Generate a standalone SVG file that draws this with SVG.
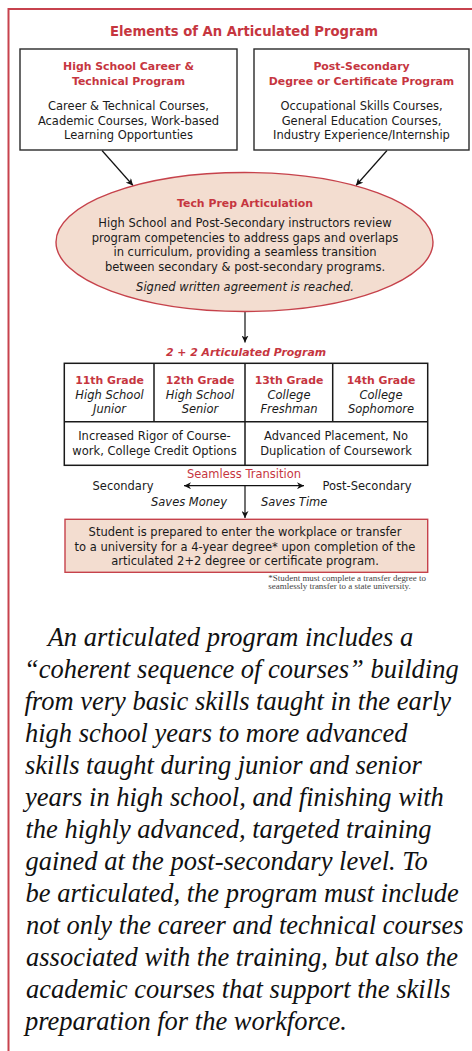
<svg xmlns="http://www.w3.org/2000/svg" width="472" height="1051" viewBox="0 0 472 1051">
<defs>
<style>
.sans{font-family:"DejaVu Sans","Liberation Sans",sans-serif;}
.body{font-family:"DejaVu Sans","Liberation Sans",sans-serif;font-size:11.5px;fill:#1a1a1a;text-anchor:middle;}
.ital{font-style:italic;}
.hdr{font-family:"DejaVu Sans","Liberation Sans",sans-serif;font-size:10.9px;font-weight:bold;fill:#c6363f;text-anchor:middle;}
.box{fill:#ffffff;stroke:#2a2a2a;stroke-width:1.4;}
.pink{fill:#f3ddd0;stroke:#c6424b;stroke-width:1.4;}
.conn{stroke:#111;stroke-width:1.2;fill:none;}
.para{font-family:"Liberation Serif","Times New Roman",serif;font-style:italic;font-size:26.5px;fill:#111;}
</style>
<marker id="ah" viewBox="0 0 10 10" refX="10" refY="5" markerWidth="7" markerHeight="7" markerUnits="userSpaceOnUse" orient="auto-start-reverse">
<path d="M0,0 L10,5 L0,10 L3,5 z" fill="#111"/>
</marker>
</defs>
<rect width="472" height="1051" fill="#ffffff"/>
<g id="frame" fill="none" stroke="#c7424d" stroke-width="2">
<path d="M8.5,1051 L8.5,9 L472,9"/>
</g>
<text id="title" x="244" y="35.5" class="sans" font-size="13.2" font-weight="bold" fill="#c6363f" text-anchor="middle">Elements of An Articulated Program</text>
<g id="connectors">
<line class="conn" x1="102" y1="150.5" x2="133" y2="185.5" marker-end="url(#ah)"/>
<line class="conn" x1="387" y1="150.5" x2="356" y2="185.5" marker-end="url(#ah)"/>
<line class="conn" x1="245" y1="311.5" x2="245" y2="342.5" marker-end="url(#ah)"/>
<line class="conn" x1="184" y1="485.7" x2="304" y2="485.7" marker-start="url(#ah)" marker-end="url(#ah)"/>
<line class="conn" x1="245" y1="485.7" x2="245" y2="518" marker-end="url(#ah)"/>
</g>
<g id="hs-program">
<rect class="box" x="20" y="49" width="217" height="101"/>
<text class="hdr" x="128.5" y="70">High School Career &amp;</text>
<text class="hdr" x="128.5" y="85">Technical Program</text>
<text class="body" x="128.5" y="110">Career &amp; Technical Courses,</text>
<text class="body" x="128.5" y="124.5">Academic Courses, Work-based</text>
<text class="body" x="128.5" y="139">Learning Opportunties</text>
</g>
<g id="ps-program">
<rect class="box" x="254" y="49" width="215" height="101"/>
<text class="hdr" x="361.5" y="70">Post-Secondary</text>
<text class="hdr" x="361.5" y="85">Degree or Certificate Program</text>
<text class="body" x="361.5" y="110">Occupational Skills Courses,</text>
<text class="body" x="361.5" y="124.5">General Education Courses,</text>
<text class="body" x="361.5" y="139">Industry Experience/Internship</text>
</g>
<g id="tech-prep">
<ellipse class="pink" cx="244.5" cy="242" rx="188.5" ry="69.5"/>
<text class="hdr" x="245" y="207">Tech Prep Articulation</text>
<text class="body" x="245" y="227">High School and Post-Secondary instructors review</text>
<text class="body" x="245" y="241.7">program competencies to address gaps and overlaps</text>
<text class="body" x="245" y="256.2">in curriculum, providing a seamless transition</text>
<text class="body" x="245" y="270.8">between secondary &amp; post-secondary programs.</text>
<text class="body ital" x="245" y="291">Signed written agreement is reached.</text>
</g>
<g id="program-2plus2">
<text class="hdr" x="246" y="355.5" font-size="11" font-style="italic">2 + 2 Articulated Program</text>
<rect x="64.3" y="363.3" width="363.4" height="102" fill="#fff" stroke="#1a1a1a" stroke-width="1.5"/>
<g stroke="#1a1a1a" stroke-width="1.5">
<line x1="64.3" y1="421.7" x2="427.7" y2="421.7"/>
<line x1="154" y1="363.3" x2="154" y2="421.7"/>
<line x1="245" y1="363.3" x2="245" y2="465.3"/>
<line x1="332.7" y1="363.3" x2="332.7" y2="421.7"/>
</g>
<text class="hdr" x="109.5" y="384.3" font-size="10.8">11th Grade</text>
<text class="body ital" x="109.5" y="398.5">High School</text>
<text class="body ital" x="109.5" y="412.8">Junior</text>
<text class="hdr" x="200" y="384.3" font-size="10.8">12th Grade</text>
<text class="body ital" x="200" y="398.5">High School</text>
<text class="body ital" x="200" y="412.8">Senior</text>
<text class="hdr" x="289" y="384.3" font-size="10.8">13th Grade</text>
<text class="body ital" x="289" y="398.5">College</text>
<text class="body ital" x="289" y="412.8">Freshman</text>
<text class="hdr" x="381" y="384.3" font-size="10.8">14th Grade</text>
<text class="body ital" x="381" y="398.5">College</text>
<text class="body ital" x="381" y="412.8">Sophomore</text>
<text class="body" x="154.5" y="440.2">Increased Rigor of Course-</text>
<text class="body" x="154.5" y="454.5">work, College Credit Options</text>
<text class="body" x="336" y="440.2">Advanced Placement, No</text>
<text class="body" x="336" y="454.5">Duplication of Coursework</text>
</g>
<g id="transition">
<text class="sans" x="244" y="478.3" font-size="11.5" fill="#c6363f" text-anchor="middle">Seamless Transition</text>
<text class="body" x="123" y="489.7">Secondary</text>
<text class="body" x="367" y="489.7">Post-Secondary</text>
<text class="body ital" x="227" y="505.7" style="text-anchor:end">Saves Money</text>
<text class="body ital" x="261" y="505.7" style="text-anchor:start">Saves Time</text>
</g>
<g id="outcome">
<rect class="pink" x="65" y="519.3" width="362.7" height="53"/>
<text class="body" x="245" y="536.2">Student is prepared to enter the workplace or transfer</text>
<text class="body" x="245" y="550.8">to a university for a 4-year degree* upon completion of the</text>
<text class="body" x="245" y="565.2">articulated 2+2 degree or certificate program.</text>
</g>
<g id="footnote" font-family="'Liberation Serif','Times New Roman',serif" font-size="8" fill="#444">
<text x="268.3" y="581" textLength="157.7" lengthAdjust="spacingAndGlyphs">*Student must complete a transfer degree to</text>
<text x="268.3" y="588.8" textLength="142.4" lengthAdjust="spacingAndGlyphs">seamlessly transfer to a state university.</text>
</g>
<g id="paragraph" class="para">
<text x="47.7" y="646">An articulated program includes a</text>
<text x="24" y="678">“coherent sequence of courses” building</text>
<text x="24.5" y="710">from very basic skills taught in the early</text>
<text x="25" y="742">high school years to more advanced</text>
<text x="25" y="774">skills taught during junior and senior</text>
<text x="25" y="806">years in high school, and finishing with</text>
<text x="25.5" y="838">the highly advanced, targeted training</text>
<text x="25.5" y="870">gained at the post-secondary level. To</text>
<text x="25.5" y="902">be articulated, the program must include</text>
<text x="26" y="934">not only the career and technical courses</text>
<text x="26" y="966">associated with the training, but also the</text>
<text x="26" y="998">academic courses that support the skills</text>
<text x="25" y="1030">preparation for the workforce.</text>
</g>
</svg>
